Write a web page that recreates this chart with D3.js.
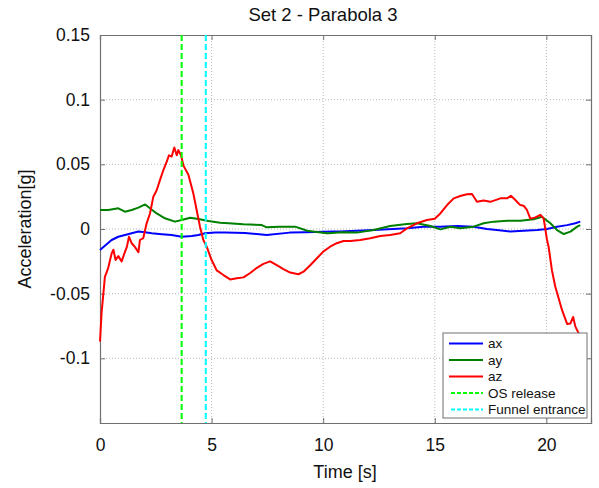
<!DOCTYPE html>
<html><head><meta charset="utf-8">
<script src="https://cdn.jsdelivr.net/npm/d3@7"></script>
<style>body{margin:0;background:#fff}svg{display:block;font-family:"Liberation Sans",Arial,sans-serif}</style>
</head><body><svg id="c" width="599" height="488"></svg>
<script>
const title = "Set 2 - Parabola 3";
const xTicks = [0,5,10,15,20];
const yTicks = [0.15,0.1,0.05,0,-0.05,-0.1];
const yTickLabels = ["0.15","0.1","0.05","0","-0.05","-0.1"];
const seriesNames = ["ax","ay","az"];
const eventNames = ["OS release","Funnel entrance"];
const eventTimes = [3.66, 4.74];

const axT = [0,0.22,0.52,0.82,1.12,1.42,1.72,2.02,2.32,2.77,3.21,3.66,4.11,4.41,4.71,5.16,5.61,6.5,7.47,8.5,9.2,10.46,10.76,12.26,13.75,14.5,15.25,16.0,16.74,17.34,17.78,18.39,18.98,19.58,20.03,20.48,20.93,21.3,21.52];
const axV = [-0.0162,-0.013,-0.0085,-0.006,-0.0046,-0.0033,-0.002,-0.0026,-0.0033,-0.004,-0.0046,-0.006,-0.0054,-0.0046,-0.0033,-0.0028,-0.0028,-0.003,-0.0046,-0.0028,-0.0025,-0.002,-0.002,-0.0008,0.0005,0.0018,0.0018,0.0023,0.0018,0,-0.0008,-0.002,-0.0013,-0.0008,0,0.0018,0.003,0.0044,0.0057];

const ayT = [0,0.37,0.82,1.12,1.42,1.72,2.02,2.24,2.54,2.91,3.36,3.66,4.04,4.41,4.86,5.38,5.76,6.43,7.25,7.47,8.0,8.52,8.74,9.19,9.27,10.16,10.24,10.83,11.5,12.26,13.0,13.75,14.2,14.8,15.25,15.7,16.14,16.74,17.19,17.64,18.24,18.83,19.43,19.8,20.18,20.48,20.78,21.08,21.38,21.52];
const ayV = [0.0147,0.0147,0.016,0.0134,0.0147,0.0165,0.019,0.016,0.012,0.0083,0.0057,0.007,0.0087,0.0077,0.0062,0.0049,0.0044,0.0036,0.003,0.0013,0.0018,0.0018,0.0018,-0.0008,-0.0013,-0.0033,-0.0033,-0.0026,-0.0028,-0.0008,0.0023,0.0039,0.0044,0.0023,-0.0003,0.0018,0.0005,0.0018,0.0044,0.0057,0.0064,0.0064,0.0075,0.0095,0.0044,-0.0008,-0.0039,-0.002,0.0018,0.003];

const azT = [0,0.07,0.22,0.37,0.52,0.6,0.7,0.82,0.97,1.09,1.2,1.3,1.42,1.57,1.72,1.79,1.94,2.09,2.24,2.39,2.54,2.69,2.84,2.99,3.09,3.21,3.33,3.44,3.51,3.63,3.74,3.96,4.18,4.33,4.48,4.63,4.78,5.0,5.23,5.53,5.83,6.13,6.43,6.73,7.03,7.32,7.62,7.92,8.22,8.52,8.89,9.12,9.42,9.72,10.0,10.31,10.61,10.91,11.21,11.66,12.11,12.56,13.0,13.45,13.75,14.2,14.65,15.0,15.25,15.55,15.85,16.14,16.44,16.67,16.89,17.19,17.49,17.94,18.24,18.41,18.61,18.83,18.98,19.13,19.28,19.51,19.73,19.88,20.03,20.1,20.25,20.4,20.55,20.7,20.93,21.08,21.2,21.3,21.45,21.6];
const azV = [-0.087,-0.065,-0.037,-0.030,-0.019,-0.016,-0.024,-0.021,-0.025,-0.019,-0.014,-0.006,-0.011,-0.014,-0.018,-0.0085,-0.007,0.0044,0.012,0.025,0.030,0.038,0.0456,0.052,0.057,0.056,0.063,0.057,0.061,0.057,0.049,0.042,0.0276,0.0147,0.0018,-0.0085,-0.0137,-0.024,-0.032,-0.0356,-0.039,-0.038,-0.0374,-0.034,-0.030,-0.027,-0.025,-0.028,-0.031,-0.0337,-0.035,-0.033,-0.028,-0.0226,-0.0175,-0.0137,-0.011,-0.0093,-0.0093,-0.0085,-0.0072,-0.0054,-0.0046,-0.0033,0.0005,0.0044,0.007,0.008,0.012,0.0185,0.0237,0.0255,0.0268,0.027,0.021,0.022,0.021,0.0237,0.0237,0.0257,0.0224,0.0185,0.018,0.0147,0.008,0.009,0.011,0.008,-0.0085,-0.0137,-0.032,-0.0446,-0.0536,-0.0626,-0.0734,-0.073,-0.068,-0.0755,-0.0807,-0.085];

const colors = ["#0000ff","#008000","#ff0000"];
const eventColors = ["#00ff00","#00ffff"];

const svg = d3.select("#c");
const m = {l:100, r:591, t:35, b:423};
const x = d3.scaleLinear().domain([0,22]).range([m.l,m.r]);
const y = d3.scaleLinear().domain([-0.15,0.15]).range([m.b,m.t]);

// grid
const g = svg.append("g");
g.selectAll(".gx").data(xTicks.slice(1)).join("line")
  .attr("x1",d=>x(d)).attr("x2",d=>x(d)).attr("y1",m.t).attr("y2",m.b)
  .attr("stroke","#b8b8b8").attr("stroke-width",1).attr("stroke-dasharray","1,2");
g.selectAll(".gy").data(yTicks.filter(d=>d<0.149)).join("line")
  .attr("x1",m.l).attr("x2",m.r).attr("y1",d=>y(d)).attr("y2",d=>y(d))
  .attr("stroke","#b8b8b8").attr("stroke-width",1).attr("stroke-dasharray","1,2");

// axes
const xAxis = d3.axisBottom(x).tickValues(xTicks).tickSize(-5).tickPadding(12).tickFormat(d3.format("d"));
const yAxis = d3.axisLeft(y).tickValues(yTicks).tickSize(-5).tickPadding(10).tickFormat((d,i)=>yTickLabels[i]);
const gx = svg.append("g").attr("transform",`translate(0,${m.b})`).call(xAxis);
const gy = svg.append("g").attr("transform",`translate(${m.l},0)`).call(yAxis);
svg.append("g").attr("transform",`translate(0,${m.t})`).call(d3.axisTop(x).tickValues(xTicks).tickSize(-5).tickFormat(""));
svg.append("g").attr("transform",`translate(${m.r},0)`).call(d3.axisRight(y).tickValues(yTicks).tickSize(-5).tickFormat(""));
svg.selectAll(".domain").attr("stroke","#707070").attr("stroke-width",1.2);
svg.selectAll(".tick line").attr("stroke","#707070");
svg.selectAll(".tick text").attr("font-size",17.5).attr("fill","#111").attr("font-family","'Liberation Sans',Arial,sans-serif");
gx.selectAll(".tick text").attr("dy","0.9em");

// series
const line = d3.line().x(d=>x(d[0])).y(d=>y(d[1]));
const data = [axT.map((t,i)=>[t,axV[i]]), ayT.map((t,i)=>[t,ayV[i]]), azT.map((t,i)=>[t,azV[i]])];
const plot = svg.append("g");
plot.selectAll(".s").data(data).join("path")
  .attr("d",line).attr("fill","none").attr("stroke",(d,i)=>colors[i]).attr("stroke-width",2).attr("stroke-linejoin","round");

plot.selectAll(".ev").data(eventTimes).join("line")
  .attr("x1",d=>x(d)).attr("x2",d=>x(d)).attr("y1",m.t).attr("y2",m.b)
  .attr("stroke",(d,i)=>eventColors[i]).attr("stroke-width",2).attr("stroke-dasharray","6,3");

// title & labels
svg.append("text").attr("x",323).attr("y",21).attr("text-anchor","middle").attr("font-size",18.5).attr("fill","#111").text(title);
svg.append("text").attr("x",345).attr("y",478).attr("text-anchor","middle").attr("font-size",18).attr("fill","#111").text("Time [s]");
svg.append("text").attr("transform","translate(31,229) rotate(-90)").attr("text-anchor","middle").attr("font-size",18).attr("fill","#111").text("Acceleration[g]");

// legend
const lg = svg.append("g");
lg.append("rect").attr("x",443).attr("y",333).attr("width",144).attr("height",85).attr("fill","#fff").attr("stroke","#707070").attr("stroke-width",1);
const items = seriesNames.map((n,i)=>({n,c:colors[i],dash:null})).concat(eventNames.map((n,i)=>({n,c:eventColors[i],dash:"4,2"})));
items.forEach((it,i)=>{
  const yy = 343.5 + i*16.5;
  lg.append("line").attr("x1",it.dash?451:449).attr("x2",483).attr("y1",yy).attr("y2",yy)
    .attr("stroke",it.c).attr("stroke-width",2).attr("stroke-dasharray",it.dash);
  lg.append("text").attr("x",488).attr("y",yy).attr("dy","0.35em").attr("font-size",13.5).attr("fill","#111").text(it.n);
});
</script></body></html>
